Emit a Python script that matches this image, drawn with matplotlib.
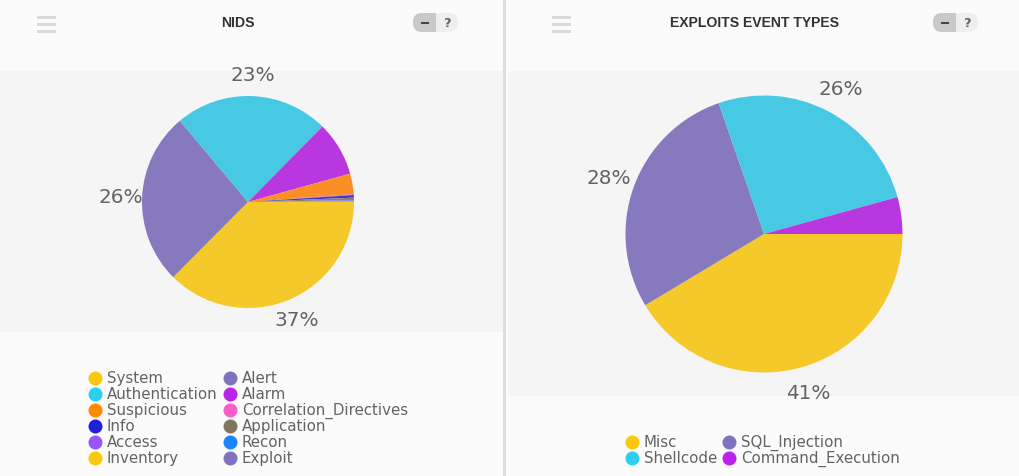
import matplotlib
matplotlib.use("Agg")
import matplotlib.pyplot as plt
from matplotlib.patches import Rectangle, FancyBboxPatch

W, H = 1020, 477

nids_labels = ["System", "Alert", "Authentication", "Alarm", "Suspicious", "Correlation_Directives",
               "Info", "Application", "Access", "Recon", "Inventory", "Exploit"]
nids_values = [37.4, 26.4, 23.45, 8.3, 3.1, 0.15, 0.4, 0.35, 0.1, 0.1, 0.05, 0.05]
nids_pie_colors = ["#f5c92a", "#8779be", "#47c9e4", "#b837e0", "#fb8f26", "#f565c8",
                   "#3a3ad0", "#8a8068", "#9a5cf0", "#2a88f5", "#f5c92a", "#8779be"]
nids_legend_colors = ["#fcc80f", "#7f73c0", "#2dcfee", "#bb22ea", "#ff8a00", "#fb5cc8",
                      "#2020d8", "#80765f", "#9a55f5", "#1a85ff", "#fcc80f", "#7f73c0"]

exploit_labels = ["Misc", "SQL_Injection", "Shellcode", "Command_Execution"]
exploit_values = [41.4, 28.3, 26.0, 4.3]
exploit_pie_colors = ["#f5c92a", "#8779be", "#47c9e4", "#b837e0"]
exploit_legend_colors = ["#fcc80f", "#7f73c0", "#2dcfee", "#bb22ea"]

TEXT = "#636363"
plt.rcParams["font.family"] = ["DejaVu Sans"]

fig = plt.figure(figsize=(W / 100, H / 100), dpi=100, facecolor="#fbfbfb")
bg = fig.add_axes([0, 0, 1, 1])
bg.set_xlim(0, W)
bg.set_ylim(H, 0)
bg.axis("off")


def px(v):
    return v * 0.72


def panel(x0, x1, band_bottom, title, title_x, icon_x, pill_x):
    bg.add_patch(Rectangle((x0, 72), x1 - x0, band_bottom - 72, fc="#f5f5f5", ec="none"))
    for y in (18, 25, 32):
        bg.add_patch(Rectangle((icon_x, y - 1.5), 19, 3, fc="#d9d9d9", ec="none"))
    bg.text(title_x, 23, title, ha="center", va="center", fontsize=px(14),
            color="#333333", fontweight="bold", family=["Liberation Sans", "DejaVu Sans"])
    bg.add_patch(FancyBboxPatch((pill_x + 9, 14), 36, 19, boxstyle="round,pad=0,rounding_size=9",
                                fc="#efefef", ec="none"))
    bg.add_patch(FancyBboxPatch((pill_x, 14), 23, 19, boxstyle="round,pad=0,rounding_size=9",
                                fc="#c9c9c9", ec="none"))
    bg.add_patch(Rectangle((pill_x + 12, 14), 11, 19, fc="#c9c9c9", ec="none"))
    bg.add_patch(Rectangle((pill_x + 8, 22.5), 8, 2.2, fc="#444444", ec="none"))
    bg.text(pill_x + 33.5, 23.5, "?", ha="center", va="center", fontsize=px(13), color="#666666",
            fontweight="bold")


panel(0, 503, 333, "NIDS", 238, 37, 413)
panel(508, W, 397, "EXPLOITS EVENT TYPES", 755, 552, 933)
bg.add_patch(Rectangle((503.5, 0), 3, H, fc="#dedede", ec="none"))


def draw_pie(values, colors, cx, cy, r, pctd):
    ax = fig.add_axes([(cx - r) / W, 1 - (cy + r) / H, 2 * r / W, 2 * r / H])
    ax.pie(values, colors=colors, startangle=0, counterclock=False, radius=1,
           autopct=lambda p: f"{p:.0f}%" if p >= 10 else "", pctdistance=pctd,
           wedgeprops={"linewidth": 0},
           textprops={"fontsize": px(20), "color": TEXT})
    ax.set_xlim(-1, 1)
    ax.set_ylim(-1, 1)
    ax.axis("off")
    ax.patch.set_alpha(0)


draw_pie(nids_values, nids_pie_colors, 248, 203, 106, 1.2)
draw_pie(exploit_values, exploit_pie_colors, 764, 235, 138.5, 1.19)


def legend(labels, colors, xs, ys):
    for i, (lab, col) in enumerate(zip(labels, colors)):
        x = xs[i % 2]
        y = ys[i // 2]
        bg.scatter([x], [y], s=px(14) ** 2, color=col, linewidths=0, zorder=3)
        bg.text(x + 12, y, lab, ha="left", va="center", fontsize=px(15), color=TEXT)


legend(nids_labels, nids_legend_colors, [95, 230], [379, 395, 411, 427, 443, 459])
legend(exploit_labels, exploit_legend_colors, [632, 729], [443, 459])

fig.savefig("out.png", dpi=100, facecolor=fig.get_facecolor())
